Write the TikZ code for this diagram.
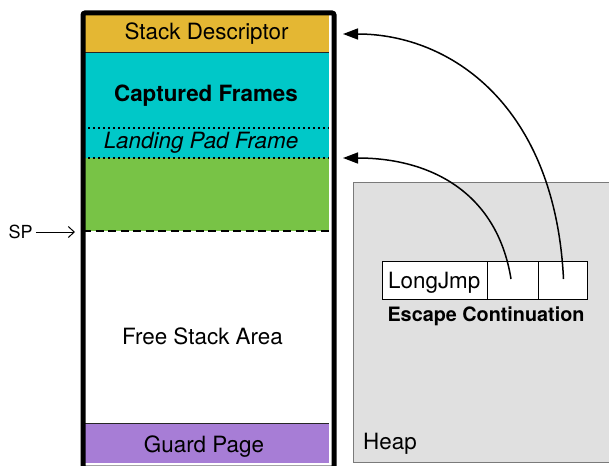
\documentclass[tikz,border=0pt]{standalone}
\usepackage{fontspec}
\setmainfont{TeX Gyre Heros}
\usetikzlibrary{arrows.meta}
\definecolor{descyellow}{HTML}{E4B733}
\definecolor{capcyan}{HTML}{00C8C8}
\definecolor{livegreen}{HTML}{78C346}
\definecolor{guardpurple}{HTML}{A77DD6}
\definecolor{heapgrey}{HTML}{E0E0E0}
\definecolor{heapedge}{HTML}{7A7A7A}
\begin{document}
\begin{tikzpicture}[x=1pt,y=-1pt,
  region/.style={fill=#1, minimum width=246pt, inner sep=0pt, outer sep=0pt, anchor=north west},
  lbl/.style={font=\fontsize{22.4pt}{26pt}\selectfont, anchor=base, inner sep=0pt},
  solidsep/.style={draw=black!85, line width=1pt},
  dotsep/.style={draw=black, line width=1.3pt, dash pattern=on 2pt off 3pt},
  dashsep/.style={draw=black, line width=1.6pt, dash pattern=on 8pt off 4.5pt},
  cell/.style={draw=black, line width=1pt, fill=white, minimum height=38pt, inner sep=0pt, outer sep=0pt, anchor=north west},
  jump/.style={draw=black, line width=1.5pt, -{Triangle[length=15pt,width=11pt]}}]
\useasboundingbox (0,0) rectangle (609,465);

% stack regions, top to bottom
\node[region=descyellow, minimum height=40pt]  (desc)  at (83,13)  {};
\node[region=capcyan,    minimum height=75pt]  (capt)  at (83,53)  {};
\node[region=capcyan,    minimum height=30pt]  (pad)   at (83,128) {};
\node[region=livegreen,  minimum height=73pt]  (live)  at (83,158) {};
\node[region=white,      minimum height=192pt] (free)  at (83,231) {};
\node[region=guardpurple,minimum height=40pt]  (guard) at (83,423) {};

% separators between the regions
\draw[solidsep] (desc.south west) -- (desc.south east);
\draw[dotsep]   (capt.south west) -- (capt.south east);
\draw[dotsep]   (pad.south west)  -- (pad.south east);
\draw[dashsep]  (live.south west) -- (live.south east);
\draw[solidsep] (guard.north west) -- (guard.north east);

% stack outline
\node[draw=black, line width=5pt, rounded corners=2pt, inner sep=0pt,
      minimum width=251pt, minimum height=455pt, anchor=north west] (stack) at (80.5,10.5) {};

% region labels
\node[lbl] (tdesc)  at (206.5,39.3)  {Stack Descriptor};
\node[lbl] (tcapt)  at (206,101.7) {\bfseries Captured Frames};
\node[lbl] (tpad)   at (201,148.3) {\itshape Landing Pad Frame};
\node[lbl] (tfree)  at (202.5,344)   {Free Stack Area};
\node[lbl] (tguard) at (204,452)   {Guard Page};

% stack pointer marker
\node[font=\fontsize{18pt}{20pt}\selectfont, anchor=base west, inner sep=0pt] (sp) at (8.5,238.5) {SP};
\coordinate (spTip) at (75,232);
\draw[line width=1pt, -{Straight Barb[length=6pt,width=11pt]}] (sp.east |- spTip) ++(3,0) coordinate (spTail) (spTail) -- (spTip);

% heap
\node[draw=heapedge, fill=heapgrey, line width=1pt, inner sep=0pt, anchor=north west,
      minimum width=262pt, minimum height=280pt] (heap) at (353,182) {};
\node[lbl, anchor=base west] (theap) at (363,449.3) {Heap};

% escape continuation record
\node[cell, minimum width=105pt] (lj) at (382,261) {};
\node[cell, minimum width=51pt]  (c1) at (487,261) {};
\node[cell, minimum width=49pt]  (c2) at (538,261) {};
\node[lbl, anchor=base west] (tlj) at (388,288.3) {LongJmp};
\node[font=\fontsize{19.8pt}{23pt}\selectfont\bfseries, anchor=base, inner sep=0pt] (tesc) at (486,321.7) {Escape Continuation};

% continuation pointers back into the stack
\coordinate (padTip)  at (343,158);
\coordinate (descTip) at (343,34);
\draw[jump] ([xshift=-1.5pt,yshift=1pt]c1.center) .. controls (497,192) and (430,158) .. (padTip);
\draw[jump] ([xshift=1pt,yshift=1pt]c2.center) .. controls (555,105) and (450,34) .. (descTip);
\end{tikzpicture}
\end{document}
